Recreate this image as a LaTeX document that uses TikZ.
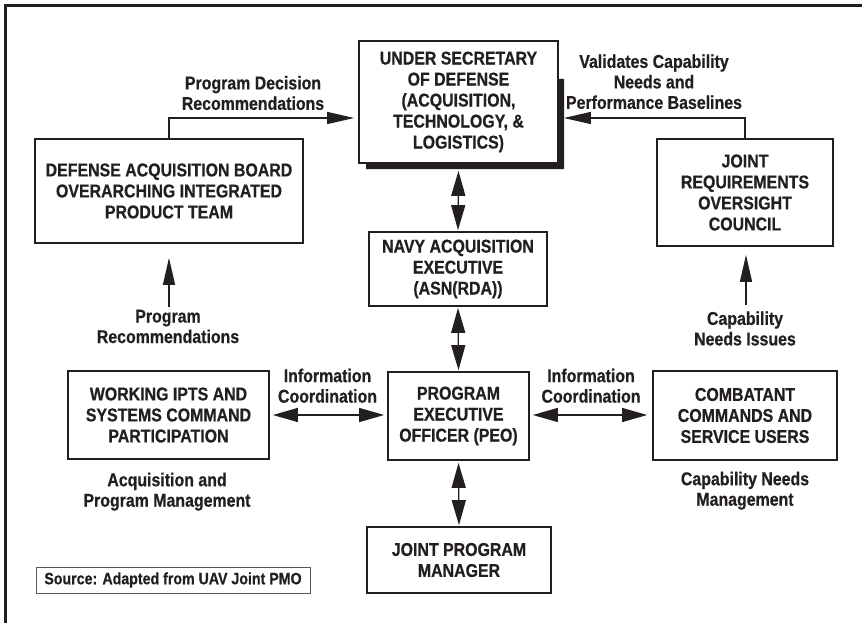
\documentclass[tikz,border=0pt]{standalone}
\usepackage{fontspec}
\setmainfont{Liberation Sans}[FakeStretch=0.86, BoldFeatures={FakeBold=0.6}]
\usetikzlibrary{arrows.meta}
\definecolor{ink}{RGB}{35,31,32}
\begin{document}
\begin{tikzpicture}[x=1pt,y=-1pt,
  every node/.style={font=\bfseries\fontsize{18.5}{21}\selectfont, text=ink, align=center, inner sep=0pt},
  box/.style={draw=ink, line width=1.7pt, fill=white},
  lbl/.style={font=\bfseries\fontsize{18.5}{20.5}\selectfont},
  conn/.style={draw=ink, line width=1.3pt, -{Triangle[length=27pt,width=12pt]}},
  dconn/.style={draw=ink, line width=1.3pt, {Triangle[length=25pt,width=14pt]}-{Triangle[length=25pt,width=14pt]}}
]
\useasboundingbox (0,0) rectangle (862,623);
% outer frame (top and left)
\draw[ink, line width=2.6pt] (5.3,623) -- (5.3,5.3) -- (862,5.3);

% shadow of top box
\fill[ink] (558,79) -- (564,79) -- (564,169) -- (366,169) -- (366,163) -- (558,163) -- cycle;

% boxes
\node[box, minimum width=199pt, minimum height=122pt] (usd) at (458.5,102)
  {UNDER SECRETARY\\OF DEFENSE\\(ACQUISITION,\\TECHNOLOGY, \&\\LOGISTICS)};
\node[box, minimum width=268pt, minimum height=104pt] (dab) at (169,191)
  {DEFENSE ACQUISITION BOARD\\OVERARCHING INTEGRATED\\PRODUCT TEAM};
\node[box, minimum width=176pt, minimum height=107pt] (jroc) at (745,192.5)
  {JOINT\\REQUIREMENTS\\OVERSIGHT\\COUNCIL};
\node[box, minimum width=178pt, minimum height=74pt] (navy) at (458,269)
  {NAVY ACQUISITION\\EXECUTIVE\\(ASN(RDA))};
\node[box, minimum width=141pt, minimum height=88pt] (peo) at (458.5,416)
  {PROGRAM\\EXECUTIVE\\OFFICER (PEO)};
\node[box, minimum width=184pt, minimum height=66pt] (jpm) at (459,560)
  {JOINT PROGRAM\\MANAGER};
\node[box, minimum width=201pt, minimum height=88pt] (wipt) at (168.5,415)
  {WORKING IPTS AND\\SYSTEMS COMMAND\\PARTICIPATION};
\node[box, minimum width=184pt, minimum height=89pt] (comb) at (745,415.5)
  {COMBATANT\\COMMANDS AND\\SERVICE USERS};
\node[draw=ink!75, line width=0.8pt, minimum width=274pt, minimum height=26pt,
  font=\bfseries\fontsize{16.5}{19}\selectfont] (src) at (173,580)
  {Source: Adapted from UAV Joint PMO};

% labels
\node[lbl] (l1) at (253,93) {Program Decision\\Recommendations};
\node[lbl] (l2) at (654,81.75) {Validates Capability\\Needs and\\Performance Baselines};
\node[lbl] (l3) at (168,326.5) {Program\\Recommendations};
\node[lbl] (l4) at (745,328.5) {Capability\\Needs Issues};
\node[lbl] (l5) at (327.5,385.75) {Information\\Coordination};
\node[lbl] (l6) at (591,385.75) {Information\\Coordination};
\node[lbl] (l7) at (167,491.7) {Acquisition and\\Program Management};
\node[lbl] (l8) at (745,490.7) {Capability Needs\\Management};

% connectors
\draw[conn, shorten >=4pt] (dab.north) |- ([yshift=-16pt]usd.west);
\draw[conn] (jroc.north) |- ([xshift=5pt,yshift=-16pt]usd.east);
\draw[conn, shorten <=2.5pt, shorten >=14pt] (dab.south |- l3.north) -- (dab.south);
\draw[conn, shorten <=6pt, shorten >=8pt] ([xshift=1pt]l4.north) -- ([xshift=1pt]jroc.south);
\draw[dconn, shorten <=1pt, shorten >=1pt] ([yshift=-6pt]usd.south) -- (navy.north);
\draw[dconn, shorten <=1pt, shorten >=1pt] (navy.south) -- (peo.north);
\draw[dconn, shorten <=2pt, shorten >=1pt] (peo.south) -- (jpm.north);
\draw[dconn, shorten <=3pt, shorten >=3pt] (wipt.east) -- (wipt.east -| peo.west);
\draw[dconn, shorten <=3pt, shorten >=5pt] (wipt.east -| peo.east) -- (wipt.east -| comb.west);
\end{tikzpicture}
\end{document}
